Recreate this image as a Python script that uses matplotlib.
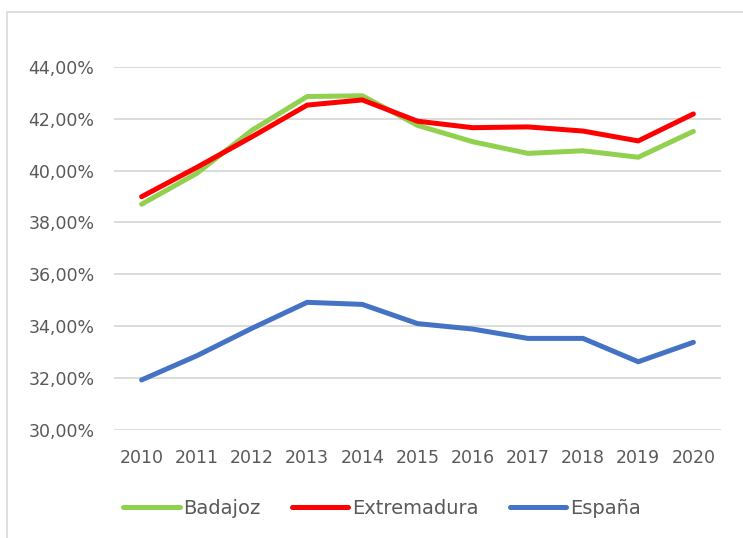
import matplotlib.pyplot as plt
from matplotlib.patches import Rectangle
from matplotlib.ticker import FuncFormatter, MultipleLocator

years = [2010, 2011, 2012, 2013, 2014, 2015, 2016, 2017, 2018, 2019, 2020]
badajoz = [38.70, 39.89, 41.55, 42.85, 42.88, 41.74, 41.11, 40.66, 40.76, 40.51, 41.51]
extremadura = [38.99, 40.12, 41.30, 42.52, 42.72, 41.90, 41.65, 41.68, 41.52, 41.14, 42.18]
espana = [31.93, 32.86, 33.92, 34.92, 34.84, 34.10, 33.89, 33.53, 33.53, 32.63, 33.38]

series = [
    ("Badajoz", badajoz, "#92d050"),
    ("Extremadura", extremadura, "#ff0000"),
    ("España", espana, "#4472c4"),
]

text_col = "#595959"
grid_col = "#d9d9d9"

plt.rcParams["font.family"] = ["DejaVu Sans"]

fig = plt.figure(figsize=(7.43, 5.38), dpi=100)
ax = fig.add_axes([114 / 743, 1 - 430 / 538, 607 / 743, (430 - 66.7) / 538])

x = range(len(years))
for name, vals, col in series:
    ax.plot(x, vals, color=col, lw=3.6, label=name,
            solid_capstyle="round", solid_joinstyle="round")

ax.set_xlim(-0.5, len(years) - 0.5)
ax.set_ylim(30, 44)
ax.yaxis.set_major_locator(MultipleLocator(2))
ax.yaxis.set_major_formatter(FuncFormatter(lambda v, p: f"{v:.2f}%".replace(".", ",")))
ax.set_xticks(list(x))
ax.set_xticklabels([str(y) for y in years])

ax.grid(axis="y", color=grid_col, lw=1.3)
ax.set_axisbelow(True)
for s in ax.spines.values():
    s.set_visible(False)
ax.tick_params(axis="both", length=0, colors=text_col, labelsize=12.5)
ax.tick_params(axis="y", pad=14)
ax.tick_params(axis="x", pad=14)

leg = ax.legend(loc="center", bbox_to_anchor=(382 / 743, 1 - 508 / 538),
                bbox_transform=fig.transFigure, ncol=3, frameon=False,
                handlelength=2.9, handletextpad=0.2, columnspacing=1.6,
                fontsize=14)
for t in leg.get_texts():
    t.set_color(text_col)

# chart frame, only top and left edges are inside the image
fig.patches.append(Rectangle((7.5 / 743, -0.1), 1.2, 1.1 - 12 / 538,
                             transform=fig.transFigure, fill=False,
                             edgecolor=grid_col, lw=1.2))

fig.savefig("out.png", dpi=100)
